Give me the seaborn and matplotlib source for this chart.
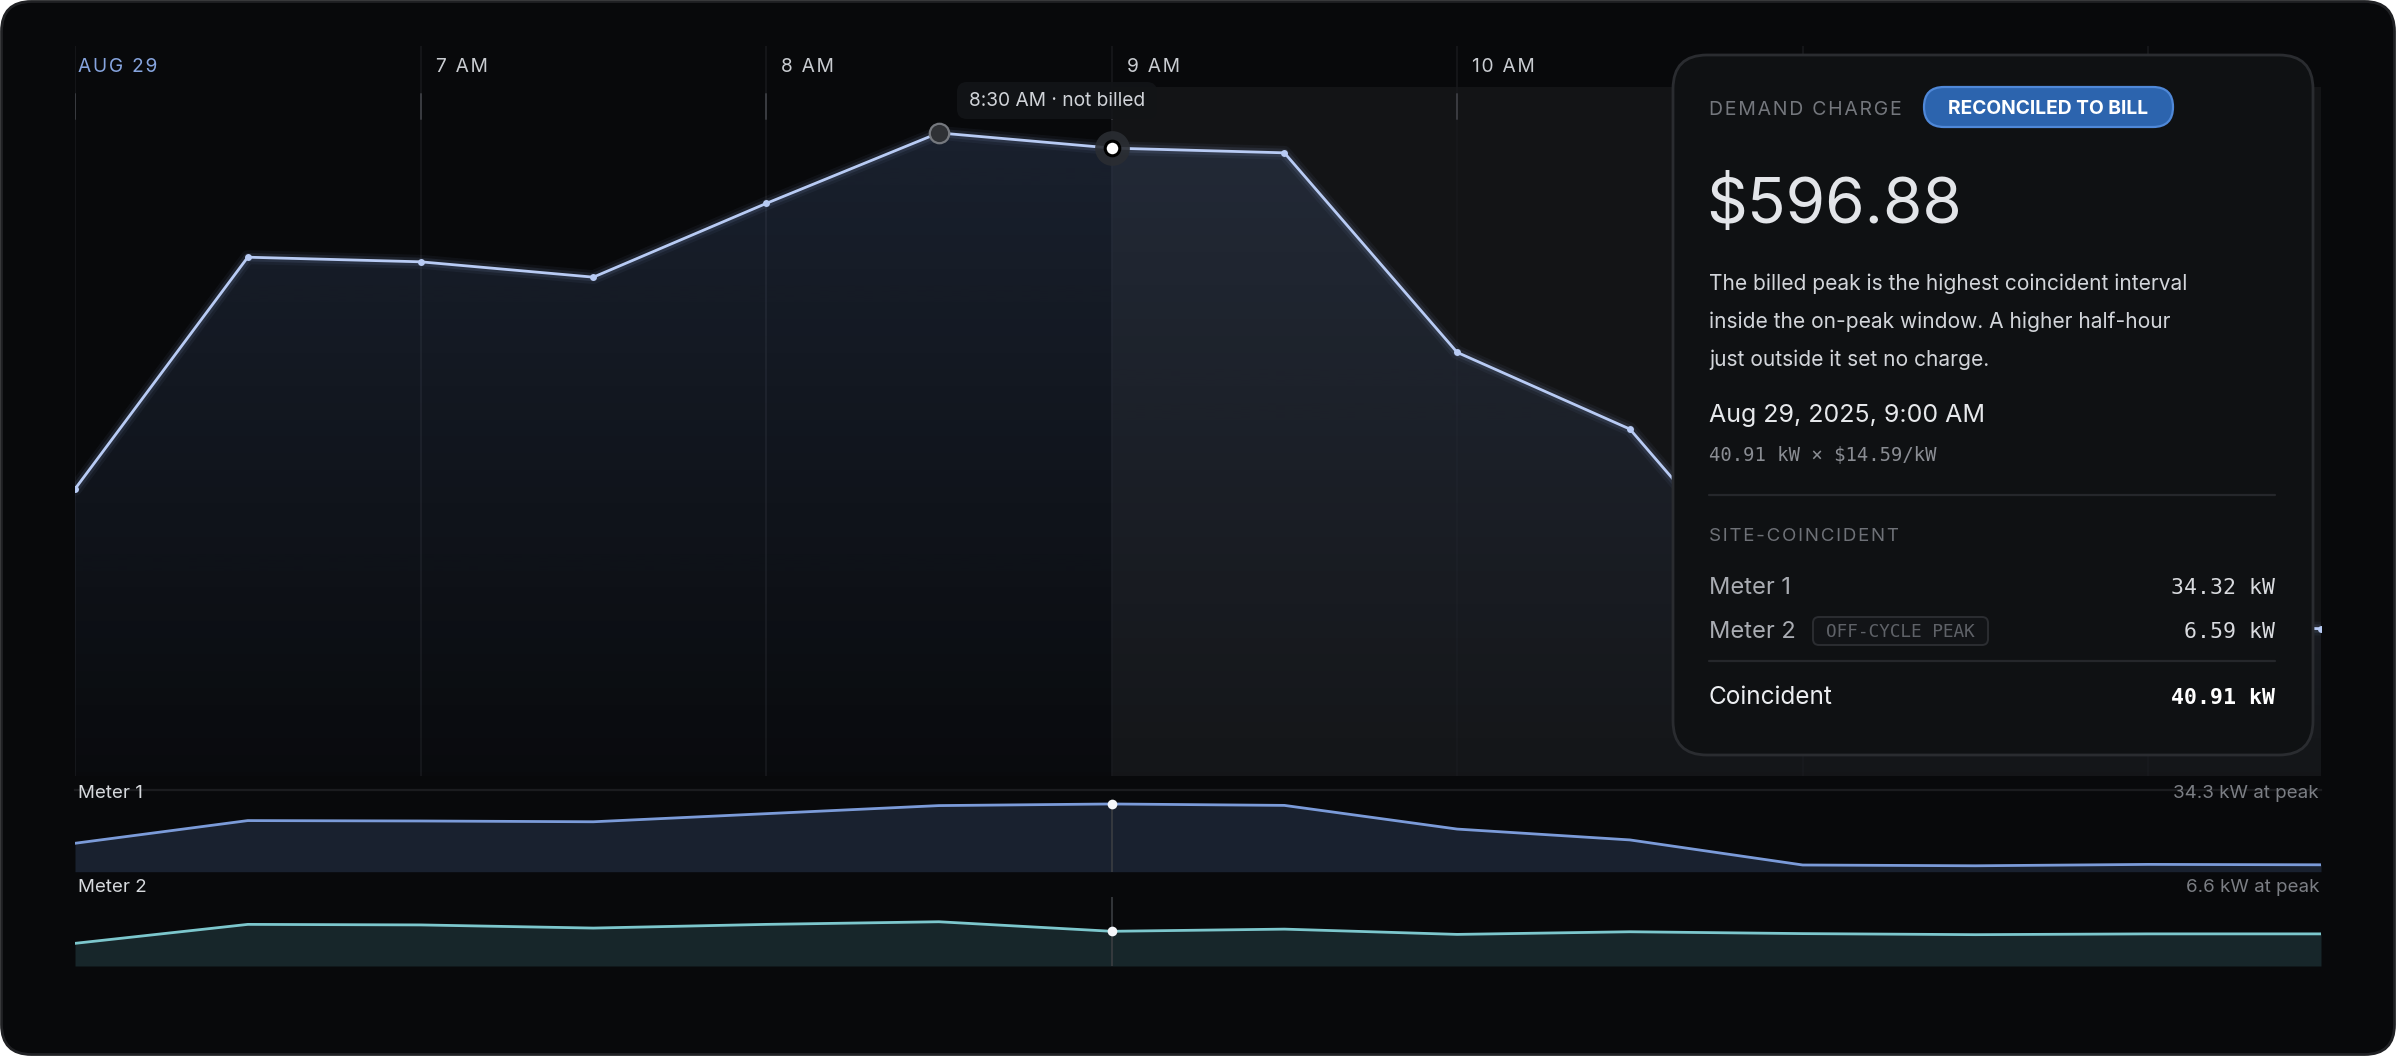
import numpy as np
import pandas as pd
import matplotlib
matplotlib.use("Agg")
import matplotlib.pyplot as plt
import seaborn as sns
from matplotlib.patches import FancyBboxPatch, PathPatch

# ---- data ----
times = ["6:00 AM", "6:30 AM", "7:00 AM", "7:30 AM", "8:00 AM", "8:30 AM", "9:00 AM",
         "9:30 AM", "10:00 AM", "10:30 AM", "11:00 AM", "11:30 AM", "12:00 PM", "12:30 PM"]
coincident_kw = [18.7, 33.8, 33.5, 32.5, 37.3, 41.9, 40.91, 40.6, 27.6, 22.6, 9.55, 8.95, 9.8, 9.6]
meter1_kw = [14.4, 25.9, 25.7, 25.3, 29.4, 33.5, 34.32, 33.6, 21.6, 16.1, 3.4, 3.0, 3.7, 3.5]
meter2_kw = [4.3, 7.9, 7.8, 7.2, 7.9, 8.4, 6.59, 7.0, 6.0, 6.5, 6.15, 5.95, 6.1, 6.1]
hour_ticks = [6, 7, 8, 9, 10, 11, 12]
hour_labels = ["AUG 29", "7 AM", "8 AM", "9 AM", "10 AM", "11 AM", "12 PM"]
peak_time = "9:00 AM"
unbilled_time = "8:30 AM"
on_peak_start = "9:00 AM"

sns.set_theme(style="white")
plt.rcParams['font.family'] = ['Inter', 'DejaVu Sans']
MONO = ['DejaVu Sans Mono']

BG = '#08090b'
W, H = 2396, 1056

ts = pd.to_datetime(times, format="%I:%M %p")
hours = np.array(ts.hour + ts.minute / 60.0)
df = pd.DataFrame({'hour': hours, 'coincident': coincident_kw,
                   'meter1': meter1_kw, 'meter2': meter2_kw})


def to_hour(s):
    t = pd.to_datetime(s, format="%I:%M %p")
    return t.hour + t.minute / 60.0


def spaced(s):
    # crude letter-spacing for the small caps labels
    return '\u200a'.join(s)


t_peak = to_hour(peak_time)
t_unb = to_hour(unbilled_time)
t_on = to_hour(on_peak_start)
x0, x1 = hours[0], hours[-1]
i_peak = int(np.argmin(np.abs(hours - t_peak)))
i_unb = int(np.argmin(np.abs(hours - t_unb)))

fig = plt.figure(figsize=(W / 100, H / 100), dpi=100, facecolor='white')


def frac_axes(left, top, right, bottom):
    """Axes from pixel box (top-left origin)."""
    return fig.add_axes([left / W, 1 - bottom / H, (right - left) / W, (bottom - top) / H])


# background frame
bg = fig.add_axes([0, 0, 1, 1])
bg.set_xlim(0, W)
bg.set_ylim(H, 0)
bg.axis('off')
bg.set_zorder(0)
bg.add_patch(FancyBboxPatch((1.5, 1.5), W - 3, H - 3, boxstyle="round,pad=0,rounding_size=30",
                            fc=BG, ec='#202124', lw=2))

# ---- main coincident chart ----
ax = frac_axes(75, 46, 2321, 776)
ax.set_zorder(1)
ax.patch.set_alpha(0)
ymax = 47.56
ax.axvspan(t_on, x1, ymin=0, ymax=(776 - 87) / 730, color='#131416', lw=0, zorder=0)
for h in hour_ticks:
    ax.axvline(h, color='#17181b', lw=1.2, zorder=1)
    ax.axvline(h, ymin=(776 - 119) / 730, ymax=(776 - 94) / 730, color='#3a3c41', lw=1.4, zorder=1)

# gradient area under the curve
grad = np.linspace(0, 1, 256)
rgba = np.zeros((256, 1, 4))
rgba[:, 0, 0], rgba[:, 0, 1], rgba[:, 0, 2] = 0.45, 0.60, 0.88
rgba[:, 0, 3] = 0.015 + 0.15 * grad
im = ax.imshow(rgba, extent=[x0, x1, 0, max(coincident_kw)], origin='lower',
               aspect='auto', zorder=2, interpolation='bilinear')
poly = ax.fill_between(df['hour'], df['coincident'], 0, color='none', lw=0)
clip = PathPatch(poly.get_paths()[0], transform=ax.transData, fc='none', ec='none')
ax.add_patch(clip)
im.set_clip_path(clip)

for lw, a in [(10, 0.05), (6, 0.10)]:
    ax.plot(df['hour'], df['coincident'], color='#9fb8ee', lw=lw, alpha=a, zorder=3,
            solid_joinstyle='round')
sns.lineplot(data=df, x='hour', y='coincident', ax=ax, color='#b8cbf4', lw=2.0,
             marker='o', markersize=5, markeredgewidth=0, zorder=4)
# unbilled higher interval (outside window)
ax.plot(hours[i_unb], coincident_kw[i_unb], 'o', ms=14, mfc='#2f3135', mec='#75787e',
        mew=1.6, zorder=5)
# billed peak
ax.plot(hours[i_peak], coincident_kw[i_peak], 'o', ms=25, mfc='#2a2d32', mec='none',
        alpha=0.9, zorder=5)
ax.plot(hours[i_peak], coincident_kw[i_peak], 'o', ms=10.5, mfc='white', mec='black',
        mew=2.2, zorder=6)

for h, lab in zip(hour_ticks, hour_labels):
    off = 3 if h == hour_ticks[0] else 15
    ax.annotate(spaced(lab), xy=(h, ymax), xycoords='data', xytext=(off, -25.5),
                textcoords='offset pixels', ha='left', va='baseline', fontsize=13.8,
                color='#86a4de' if h == hour_ticks[0] else '#c9ccd1')

ax.set_xlim(x0, x1)
ax.set_ylim(0, ymax)
ax.set_xlabel('')
ax.set_ylabel('')
ax.set_xticks([])
ax.set_yticks([])
for s in ax.spines.values():
    s.set_visible(False)


def meter_panel(top, bottom, col, line_c, fill_c, top_kw):
    m = frac_axes(75, top, 2321, bottom)
    m.set_zorder(1)
    m.patch.set_alpha(0)
    m.fill_between(df['hour'], df[col], 0, color=fill_c, lw=0, zorder=1)
    sns.lineplot(data=df, x='hour', y=col, ax=m, color=line_c, lw=2.0, zorder=3)
    m.axvline(hours[i_peak], ymin=0, ymax=df[col][i_peak] / top_kw, color='#3a3d42',
              lw=1.2, zorder=2)
    m.plot(hours[i_peak], df[col][i_peak], 'o', ms=7, mfc='#f4f6fa', mec='none', zorder=4)
    m.set_xlim(x0, x1)
    m.set_ylim(0, top_kw)
    m.set_xticks([])
    m.set_yticks([])
    m.set_xlabel('')
    m.set_ylabel('')
    for s in m.spines.values():
        s.set_visible(False)
    return m


m1 = meter_panel(790, 871.7, 'meter1', '#7b9bd9', '#19212f', 41.4)
m1.spines['top'].set_visible(True)
m1.spines['top'].set_color('#1b1c1f')
m1.spines['top'].set_linewidth(1.6)
m2 = meter_panel(897, 966, 'meter2', '#7cc7cd', '#17262a', 13.1)
m2.axvline(hours[i_peak], ymin=meter2_kw[i_peak] / 13.1, ymax=1, color='#3a3d42', lw=1.2)

# ---- overlay: labels, tooltip, card ----
ov = fig.add_axes([0, 0, 1, 1])
ov.set_xlim(0, W)
ov.set_ylim(H, 0)
ov.axis('off')
ov.set_zorder(5)
ov.patch.set_alpha(0)

ov.text(78, 798, 'Meter 1', fontsize=13.5, color='#d6d9dd', va='baseline')
ov.text(2319, 798, f'{meter1_kw[i_peak]:.1f} kW at peak', fontsize=13.5, color='#7b7e84',
        ha='right', va='baseline')
ov.text(78, 892, 'Meter 2', fontsize=13.5, color='#d6d9dd', va='baseline')
ov.text(2319, 892, f'{meter2_kw[i_peak]:.1f} kW at peak', fontsize=13.5, color='#7b7e84',
        ha='right', va='baseline')

# tooltip
ov.add_patch(FancyBboxPatch((957, 82), 200, 37, boxstyle="round,pad=0,rounding_size=10",
                            fc='#121417', ec='none', alpha=0.95))
ov.text(1057, 106, f'{unbilled_time} \u00b7 not billed', fontsize=13.8, color='#d0d3d8',
        ha='center', va='baseline')

# card
ov.add_patch(FancyBboxPatch((1673, 55), 640, 700, boxstyle="round,pad=0,rounding_size=34",
                            fc='#0f1113', ec='#2a2c30', lw=2))
L, R = 1709, 2275
ov.text(L, 115, spaced('DEMAND CHARGE'), fontsize=14, color='#74777d', va='baseline')
ov.add_patch(FancyBboxPatch((1924, 87), 249, 40, boxstyle="round,pad=0,rounding_size=20",
                            fc='#2c64ae', ec='#4f88d8', lw=1.6))
ov.text(2048.5, 114, 'RECONCILED TO BILL', fontsize=13.8, color='white', weight='bold',
        ha='center', va='baseline')
ov.text(L - 3, 223, '$596.88', fontsize=46, color='#e3e5e9', va='baseline')
para = ["The billed peak is the highest coincident interval",
        "inside the on-peak window. A higher half-hour",
        "just outside it set no charge."]
for k, line in enumerate(para):
    ov.text(L, 290 + 38 * k, line, fontsize=15.1, color='#d2d5da', va='baseline')
ov.text(L, 422, 'Aug 29, 2025, 9:00 AM', fontsize=18, color='#e6e8eb', va='baseline')
ov.text(L, 461, f'{coincident_kw[i_peak]:.2f} kW \u00d7 $14.59/kW', fontsize=13.6,
        color='#8a8d93', va='baseline', family=MONO)
ov.plot([L, R], [495, 495], color='#25272b', lw=1.6)
ov.text(L, 541, spaced('SITE-COINCIDENT'), fontsize=13.5, color='#6e7177', va='baseline')
ov.text(L, 594, 'Meter 1', fontsize=17, color='#a9acb2', va='baseline')
ov.text(R, 594, f'{meter1_kw[i_peak]:.2f} kW', fontsize=15.5, color='#d9dbdf',
        ha='right', va='baseline', family=MONO)
ov.text(L, 638, 'Meter 2', fontsize=17, color='#a9acb2', va='baseline')
ov.add_patch(FancyBboxPatch((1813, 617), 175, 28, boxstyle="round,pad=0,rounding_size=6",
                            fc='#121417', ec='#2b2d31', lw=1.4))
ov.text(1900.5, 637, 'OFF-CYCLE PEAK', fontsize=12.8, color='#5f6268', ha='center',
        va='baseline', family=MONO)
ov.text(R, 638, f'{meter2_kw[i_peak]:.2f} kW', fontsize=15.5, color='#d9dbdf',
        ha='right', va='baseline', family=MONO)
ov.plot([L, R], [661, 661], color='#25272b', lw=1.6)
ov.text(L, 704, 'Coincident', fontsize=17.5, color='#eceef1', va='baseline')
ov.text(R, 704, f'{coincident_kw[i_peak]:.2f} kW', fontsize=15.5, color='white',
        weight='bold', ha='right', va='baseline', family=MONO)

fig.savefig('out.png', dpi=100, facecolor='white')
